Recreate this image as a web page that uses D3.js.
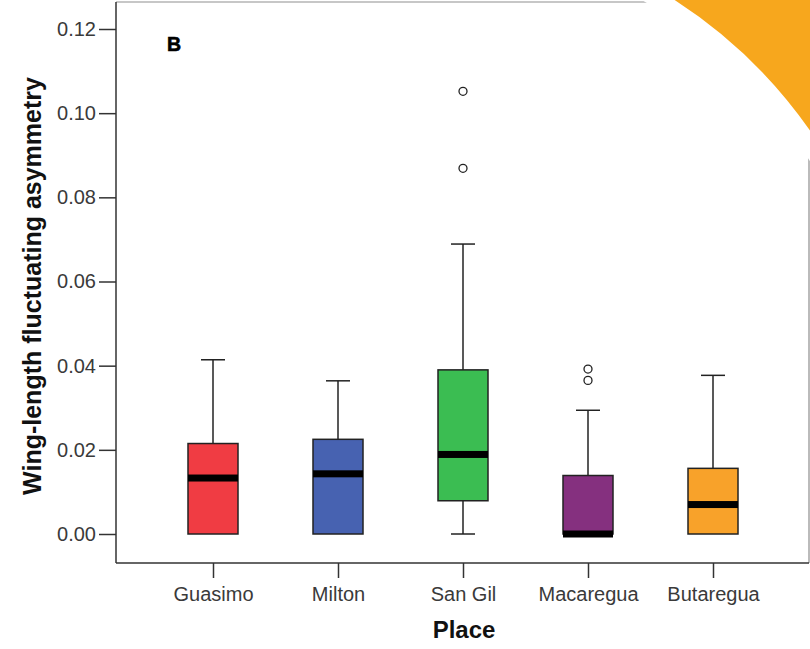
<!DOCTYPE html>
<html>
<head>
<meta charset="utf-8">
<script src="https://cdnjs.cloudflare.com/ajax/libs/d3/7.8.5/d3.min.js"></script>
<style>
  body { margin: 0; background: #fff; }
  svg { display: block; }
</style>
</head>
<body>
<div id="chart"></div>
<script>
// Box plot data (Wing-length FA by place)
const places = ['Guasimo', 'Milton', 'San Gil', 'Macaregua', 'Butaregua'];
const whiskerLow = [0, 0, 0, 0, 0];
const q1 = [0, 0, 0.0079, 0, 0];
const median = [0.0133, 0.0143, 0.0189, 0, 0.0070];
const q3 = [0.0215, 0.0225, 0.0390, 0.0139, 0.0156];
const whiskerHigh = [0.0414, 0.0364, 0.0689, 0.0294, 0.0377];
const outliers = [[], [], [0.0869, 0.1052], [0.0365, 0.0392], []];
const yTicks = [0, 0.02, 0.04, 0.06, 0.08, 0.10, 0.12];

const palette = ['#f03c43', '#4762b1', '#3bbd52', '#85307f', '#f8a22a'];

const W = 810, H = 649;
const axisLeftX = 116, axisBottomY = 563, frameRight = 809, frameTop = 2;

const svg = d3.select('#chart')
    .append('svg')
    .attr('width', W)
    .attr('height', H);

const x = d3.scalePoint()
    .domain(places)
    .range([213, 713]);

const y = d3.scaleLinear()
    .domain([0, 0.12])
    .range([534, 29]);

const boxW = 50, capW = 24;

// frame: light top/right, dark left/bottom
svg.append('line')
    .attr('x1', axisLeftX).attr('x2', frameRight)
    .attr('y1', frameTop).attr('y2', frameTop)
    .attr('stroke', '#b5b5b5').attr('stroke-width', 1.5);
svg.append('line')
    .attr('x1', frameRight).attr('x2', frameRight)
    .attr('y1', frameTop).attr('y2', axisBottomY)
    .attr('stroke', '#a5a5a5').attr('stroke-width', 1.5);

// y axis
const yAxis = svg.append('g')
    .attr('transform', `translate(${axisLeftX},0)`)
    .call(d3.axisLeft(y).tickValues(yTicks).tickFormat(d3.format('.2f'))
        .tickSize(17).tickPadding(3));
yAxis.select('.domain').remove();
yAxis.selectAll('.tick line').attr('stroke', '#333').attr('stroke-width', 1.5);
yAxis.selectAll('.tick text')
    .attr('fill', '#3a3a3a')
    .style('font-family', '"Liberation Sans", Arial, sans-serif')
    .style('font-size', '20px');
svg.append('line')
    .attr('x1', axisLeftX).attr('x2', axisLeftX)
    .attr('y1', frameTop).attr('y2', axisBottomY)
    .attr('stroke', '#333').attr('stroke-width', 1.5);

// x axis
const xAxis = svg.append('g')
    .attr('transform', `translate(0,${axisBottomY})`)
    .call(d3.axisBottom(x).tickSize(15).tickPadding(9));
xAxis.select('.domain').remove();
xAxis.selectAll('.tick line').attr('stroke', '#333').attr('stroke-width', 1.5);
xAxis.selectAll('.tick text')
    .attr('fill', '#3a3a3a')
    .style('font-family', '"Liberation Sans", Arial, sans-serif')
    .style('font-size', '20px');
svg.append('line')
    .attr('x1', axisLeftX).attr('x2', frameRight)
    .attr('y1', axisBottomY).attr('y2', axisBottomY)
    .attr('stroke', '#333').attr('stroke-width', 1.5);

// boxes
const stats = places.map((p, i) => ({
    place: p, lo: whiskerLow[i], q1: q1[i], med: median[i], q3: q3[i],
    hi: whiskerHigh[i], out: outliers[i], color: palette[i]
}));

const g = svg.append('g');
const box = g.selectAll('.box')
    .data(stats)
    .enter()
    .append('g')
    .attr('class', 'box');

// whiskers
box.append('line')
    .attr('x1', d => x(d.place)).attr('x2', d => x(d.place))
    .attr('y1', d => y(d.q3)).attr('y2', d => y(d.hi))
    .attr('stroke', '#222').attr('stroke-width', 1.5);
box.append('line')
    .attr('x1', d => x(d.place) - capW / 2).attr('x2', d => x(d.place) + capW / 2)
    .attr('y1', d => y(d.hi)).attr('y2', d => y(d.hi))
    .attr('stroke', '#222').attr('stroke-width', 1.5);
box.filter(d => d.q1 > d.lo).append('line')
    .attr('x1', d => x(d.place)).attr('x2', d => x(d.place))
    .attr('y1', d => y(d.q1)).attr('y2', d => y(d.lo))
    .attr('stroke', '#222').attr('stroke-width', 1.5);
box.filter(d => d.q1 > d.lo).append('line')
    .attr('x1', d => x(d.place) - capW / 2).attr('x2', d => x(d.place) + capW / 2)
    .attr('y1', d => y(d.lo)).attr('y2', d => y(d.lo))
    .attr('stroke', '#222').attr('stroke-width', 1.5);

box.append('rect')
    .attr('x', d => x(d.place) - boxW / 2)
    .attr('y', d => y(d.q3))
    .attr('width', boxW)
    .attr('height', d => y(d.q1) - y(d.q3))
    .attr('fill', d => d.color)
    .attr('stroke', '#222')
    .attr('stroke-width', 1.5);

box.append('rect')
    .attr('x', d => x(d.place) - boxW / 2)
    .attr('y', d => y(d.med) - 3.5)
    .attr('width', boxW)
    .attr('height', 7)
    .attr('fill', '#000');

box.selectAll('circle')
    .data(d => d.out.map(v => ({place: d.place, v})))
    .enter()
    .append('circle')
    .attr('cx', d => x(d.place))
    .attr('cy', d => y(d.v))
    .attr('r', 4)
    .attr('fill', '#fff')
    .attr('stroke', '#222')
    .attr('stroke-width', 1.3);

// titles
svg.append('text')
    .attr('transform', 'translate(41,286) rotate(-90)')
    .attr('text-anchor', 'middle')
    .style('font-family', '"Liberation Sans", Arial, sans-serif')
    .style('font-weight', 'bold')
    .style('font-size', '25px')
    .attr('fill', '#111')
    .text('Wing-length fluctuating asymmetry');

svg.append('text')
    .attr('x', 464).attr('y', 638)
    .attr('text-anchor', 'middle')
    .style('font-family', '"Liberation Sans", Arial, sans-serif')
    .style('font-weight', 'bold')
    .style('font-size', '24px')
    .attr('fill', '#111')
    .text('Place');

svg.append('text')
    .attr('x', 167).attr('y', 51)
    .style('font-family', '"Liberation Sans Narrow", "Liberation Sans", sans-serif')
    .style('font-weight', 'bold')
    .style('font-size', '19.5px')
    .attr('fill', '#000')
    .attr('stroke', '#000')
    .attr('stroke-width', 0.6)
    .text('B');

// orange corner decoration with a white band around it
const cx = 410, cy = 410, r = 488, band = 17;
function cornerPath(rad) {
    const xTop = cx + Math.sqrt(rad * rad - cy * cy);
    const yRight = cy - Math.sqrt(rad * rad - (W - cx) * (W - cx));
    const a0 = Math.atan2(0 - cy, xTop - cx);
    const a1 = Math.atan2(yRight - cy, W - cx);
    const p = d3.path();
    p.moveTo(xTop, 0);
    p.arc(cx, cy, rad, a0, a1);
    p.lineTo(W, 0);
    p.closePath();
    return p.toString();
}
svg.append('path').attr('d', cornerPath(r - band)).attr('fill', '#fff');
svg.append('path').attr('d', cornerPath(r)).attr('fill', '#f7a71d');
</script>
</body>
</html>
